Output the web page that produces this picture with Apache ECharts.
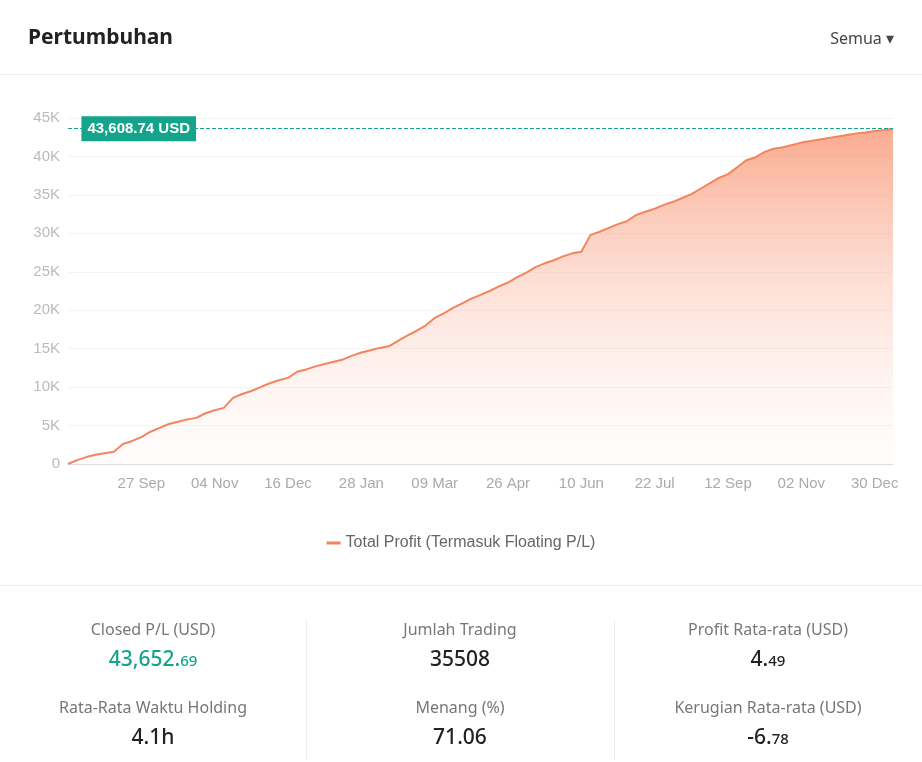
<!DOCTYPE html>
<html>
<head>
<meta charset="utf-8">
<script src="https://cdn.jsdelivr.net/npm/echarts@6/dist/echarts.min.js"></script>
<style>
  body { margin: 0; background: #fff; font-family: "Noto Sans", "Open Sans", sans-serif; }
  #wrap { position: relative; width: 922px; height: 762px; overflow: hidden; }
  #chart { position: absolute; left: 0; top: 0; width: 922px; height: 762px; }
  .title { position: absolute; left: 28px; top: 22px; font-size: 21px; font-weight: bold; color: #222; }
  .semua { position: absolute; right: 28px; top: 27px; font-size: 16px; color: #444; }
  .hr { position: absolute; left: 0; width: 922px; height: 1px; background: #ececec; }
  .col { position: absolute; top: 618px; width: 306px; text-align: center; }
  .lab { font-size: 16px; color: #777; height: 26px; }
  .val { font-size: 21px; color: #222; font-weight: 500; height: 52px; }
  .val small { font-size: 15px; }
  .vline { position: absolute; top: 620px; width: 1px; height: 140px; background: #ececec; }
</style>
</head>
<body>
<div id="wrap">
  <div id="chart"></div>
  <div class="title">Pertumbuhan</div>
  <div class="semua">Semua &#9662;</div>
  <div class="hr" style="top:74px"></div>
  <div class="hr" style="top:585px"></div>
  <div class="vline" style="left:306px"></div>
  <div class="vline" style="left:614px"></div>
  <div class="col" style="left:0">
    <div class="lab">Closed P/L (USD)</div>
    <div class="val" style="color:#14a38b">43,652.<small>69</small></div>
    <div class="lab">Rata-Rata Waktu Holding</div>
    <div class="val">4.1h</div>
  </div>
  <div class="col" style="left:307px">
    <div class="lab">Jumlah Trading</div>
    <div class="val">35508</div>
    <div class="lab">Menang (%)</div>
    <div class="val">71.06</div>
  </div>
  <div class="col" style="left:615px">
    <div class="lab">Profit Rata-rata (USD)</div>
    <div class="val">4.<small>49</small></div>
    <div class="lab">Kerugian Rata-rata (USD)</div>
    <div class="val">-6.<small>78</small></div>
  </div>
</div>
<script>
// tick labels shown every 8 points, starting at index 8
const tickLabels = ['27 Sep', '04 Nov', '16 Dec', '28 Jan', '09 Mar', '26 Apr', '10 Jun', '22 Jul', '12 Sep', '02 Nov', '30 Dec'];

// profit in thousands USD
const profitK = [
  0, 0.5, 0.9, 1.2, 1.4, 1.6, 2.6, 3.0, 3.5, 4.2,
  4.7, 5.2, 5.5, 5.8, 6.0, 6.6, 7.0, 7.3, 8.6, 9.1,
  9.5, 10.0, 10.5, 10.9, 11.2, 12.0, 12.3, 12.7, 13.0, 13.3,
  13.6, 14.1, 14.5, 14.8, 15.1, 15.3, 16.0, 16.7, 17.3, 18.0,
  19.0, 19.6, 20.3, 20.9, 21.5, 22.0, 22.5, 23.1, 23.6, 24.3,
  24.9, 25.6, 26.1, 26.5, 27.0, 27.4, 27.6, 29.8, 30.2, 30.7,
  31.2, 31.6, 32.4, 32.8, 33.2, 33.7, 34.1, 34.6, 35.1, 35.8,
  36.5, 37.2, 37.7, 38.6, 39.5, 39.9, 40.6, 41.0, 41.2, 41.5,
  41.8, 42.0, 42.2, 42.4, 42.6, 42.8, 43.0, 43.1, 43.3, 43.45, 43.60874
];

const categories = profitK.map((v, i) => (i > 0 && i % 8 === 0 ? tickLabels[i / 8 - 1] : ''));
const values = profitK.map(v => Math.round(v * 1000 * 100) / 100);
const lastValue = values[values.length - 1];

const myChart = echarts.init(document.getElementById('chart'));
myChart.setOption({
  animation: false,
  grid: { left: 68, right: 29, top: 118, bottom: 298 },
  legend: {
    bottom: 206, left: 'center',
    icon: 'rect', itemWidth: 14, itemHeight: 3,
    textStyle: { color: '#666', fontSize: 16 },
    data: ['Total Profit (Termasuk Floating P/L)']
  },
  xAxis: {
    type: 'category',
    boundaryGap: false,
    data: categories,
    axisLine: { lineStyle: { color: '#ddd' } },
    axisTick: { show: false },
    axisLabel: { interval: 0, color: '#aaa', fontSize: 15, margin: 12 }
  },
  yAxis: {
    type: 'value',
    min: 0, max: 45000, interval: 5000,
    axisLabel: { color: '#bbb', fontSize: 15, formatter: v => v === 0 ? '0' : v / 1000 + 'K' },
    splitLine: { lineStyle: { color: '#f3f3f3' } }
  },
  series: [{
    name: 'Total Profit (Termasuk Floating P/L)',
    type: 'line',
    data: values,
    symbol: 'none',
    color: '#f2855e',
    lineStyle: { width: 2 },
    areaStyle: {
      color: new echarts.graphic.LinearGradient(0, 0, 0, 1, [
        { offset: 0, color: 'rgba(248,128,88,0.95)' },
        { offset: 1, color: 'rgba(255,240,235,0.2)' }
      ])
    },
    markLine: {
      symbol: 'none', silent: true,
      lineStyle: { color: '#14a38b', type: 'dashed', width: 1 },
      label: {
        position: 'start', distance: -128,
        formatter: '43,608.74 USD',
        backgroundColor: '#14a38b', color: '#fff', fontWeight: 'bold', fontSize: 15,
        padding: [5, 6]
      },
      data: [{ yAxis: lastValue }]
    }
  }]
});
</script>
</body>
</html>
